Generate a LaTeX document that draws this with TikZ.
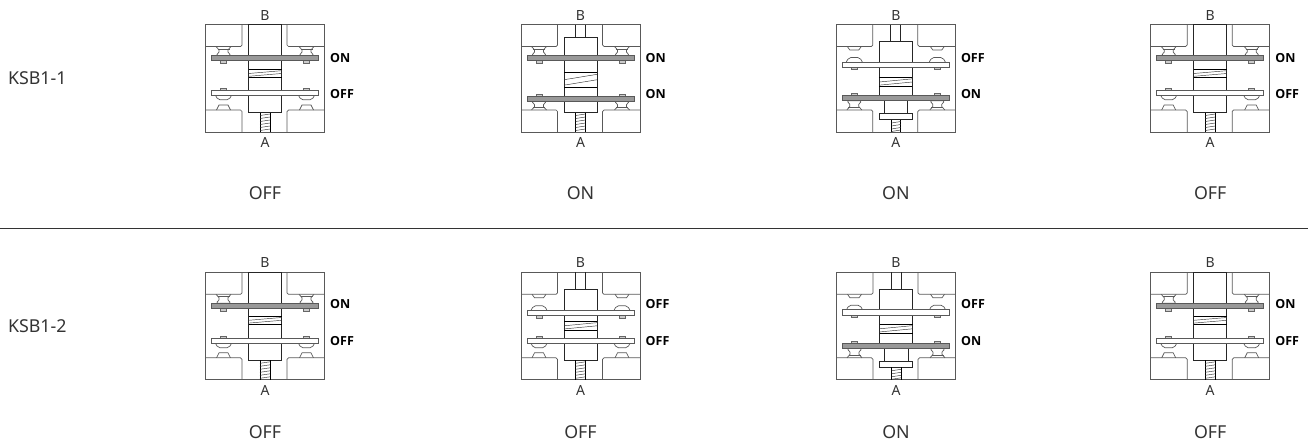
\documentclass[tikz,border=0pt]{standalone}
\usepackage{fontspec}
\setmainfont{Noto Sans}
\newfontfamily\statefont{Open Sans}

% contacts above the upper plate: #1 = centre x, #2 = plate top
\newcommand{\uppercontact}[3]{
   \ifnum#3=1
      \draw[part,rounded corners=1.5pt] (#1-7.5,22) -- (#1-3.5,{(22+#2)/2}) -- (#1-7.5,#2) -- (#1+7.5,#2) -- (#1+3.5,{(22+#2)/2}) -- (#1+7.5,22);
      \draw[part] (#1-6,24.5) -- (#1+6,24.5);
   \else
      \draw[part] (#1-7,22) -- (#1-4.5,25.5) -- (#1+4.5,25.5) -- (#1+7,22);
      \draw[part,rounded corners=2pt] (#1-8,#2) -- (#1-5.5,#2-4.5) -- (#1+5.5,#2-4.5) -- (#1+8,#2);
   \fi
   \draw[rivet] (#1-3,#2+5) rectangle (#1+3,#2+7.5);
}
% contacts below the lower plate: #1 = centre x, #2 = plate bottom
\newcommand{\lowercontact}[3]{
   \ifnum#3=1
      \draw[part,rounded corners=1.5pt] (#1-7.5,85.5) -- (#1-3.5,{(85.5+#2)/2}) -- (#1-7.5,#2) -- (#1+7.5,#2) -- (#1+3.5,{(85.5+#2)/2}) -- (#1+7.5,85.5);
      \draw[part] (#1-6,83) -- (#1+6,83);
   \else
      \draw[part] (#1-7,85.5) -- (#1-4.5,80.5) -- (#1+4.5,80.5) -- (#1+7,85.5);
      \draw[part,rounded corners=2pt] (#1-8,#2) -- (#1-5.5,#2+4.5) -- (#1+5.5,#2+4.5) -- (#1+8,#2);
   \fi
   \draw[rivet] (#1-3,#2-5.5) rectangle (#1+3,#2-7.5);
}
\newcommand{\onoff}[1]{\ifnum#1=1 ON\else OFF\fi}

\begin{document}
\begin{tikzpicture}[x=1pt,y=-1pt]
   \useasboundingbox (0,0) rectangle (1308,445);
   \tikzstyle{part}=[draw=black!65, line width=0.7pt]
   \tikzstyle{hatch}=[draw=black!80, line width=0.45pt]
   \tikzstyle{rivet}=[draw=black!60, fill=black!20, line width=0.6pt]
   \tikzstyle{stroke}=[draw=black!85, line width=0.8pt]
   \tikzstyle{heavy}=[draw=black, line width=0.9pt]
   \tikzstyle{plain}=[text=black!80, font=\fontsize{17.8}{20}\selectfont]
   \tikzstyle{port}=[text=black!80, font=\fontsize{14}{16}\selectfont]
   \tikzstyle{state}=[anchor=west, inner sep=0pt, text=black, font=\statefont\fontsize{12.5}{14}\selectfont\bfseries]

   \node[plain,anchor=west] (row1) at (4.5,78) {KSB1-1};
   \node[plain,anchor=west] (row2) at (4.5,326) {KSB1-2};
   \coordinate (left) at (0,228.5);
   \coordinate (right) at (1308,228.5);
   \draw[line width=0.8pt,black!80] (left) -- (right);

   \foreach \i/\x/\y/\ctop/\neck/\spa/\spb/\upy/\ust/\loy/\lst/\ua/\ub/\sy/\word in {
      1/205.5/24.5/0/0/45/53/31/1/65.5/0/57.7/94/193/OFF,
      2/521/24.5/13/0/47.5/63/31/1/71.5/1/57.7/94/193/ON,
      3/836.3/24.5/17/1/53/62/37.5/0/71/1/58/94/193/ON,
      4/1150.7/24.5/0/0/45/53/31/1/65.5/0/57.7/94/193/OFF,
      5/205.5/272.3/0/0/44/52/31/1/65.7/0/304/340.7/432/OFF,
      6/521/272.3/17/0/49/58/38/0/65.7/0/304/340.7/432/OFF,
      7/836.5/272.3/17/1/52/61/37.4/0/71/1/304/340.7/432/ON,
      8/1150.7/272.3/0/0/44/52/31/1/65.7/0/304/340.7/432/OFF} {
      \begin{scope}[shift={(\x,\y)}]
         % frame and the four blocks
         \draw[part] (0,0) rectangle (119,107.5);
         \draw[part,rounded corners=1.5pt] (0,22) -- (36.5,22) -- (36.5,0);
         \draw[part,rounded corners=1.5pt] (119,22) -- (81.5,22) -- (81.5,0);
         \draw[part,rounded corners=1.5pt] (0,85.5) -- (36.5,85.5) -- (36.5,107.5);
         \draw[part,rounded corners=1.5pt] (119,85.5) -- (81.5,85.5) -- (81.5,107.5);
         % plunger
         \ifnum\neck=1
            \draw[stroke] (43,\ctop) rectangle (76,\loy);
            \draw[stroke] (48,\loy) rectangle (71.5,89);
            \draw[stroke] (43,89) rectangle (76,95);
            \draw[heavy] (55,95) -- (55,107.5);
            \draw[heavy] (64.5,95) -- (64.5,107.5);
            \foreach \s in {98.5,101.5,104.5,107}
               \draw[hatch] (55,\s) -- (64.5,\s-1.5);
         \else
            \draw[stroke] (43,\ctop) rectangle (76,88);
            \draw[heavy] (54.5,88) -- (54.5,107.5);
            \draw[heavy] (64.5,88) -- (64.5,107.5);
            \foreach \s in {91,94,...,106}
               \draw[hatch] (54.5,\s) -- (64.5,\s-1.5);
         \fi
         \ifnum\ctop>0
            \draw[stroke] (54.5,0) -- (54.5,\ctop);
            \draw[stroke] (64.5,0) -- (64.5,\ctop);
         \fi
         % spring
         \draw[heavy] (43,\spa) -- (76,\spa);
         \draw[heavy] (43,\spb) -- (76,\spb);
         \draw[hatch] (43,{\spa+0.5*(\spb-\spa)}) -- (76,{\spa+0.15*(\spb-\spa)});
         \draw[hatch] (43,{\spa+0.85*(\spb-\spa)}) -- (76,{\spa+0.5*(\spb-\spa)});
         % contacts and plates
         \foreach \cx in {18,101} {
            \uppercontact{\cx}{\upy}{\ust}
            \lowercontact{\cx}{\loy+5.3}{\lst}
         }
         \ifnum\ust=1
            \draw[part,fill=black!40] (6,\upy) rectangle (113,\upy+5.3);
         \else
            \draw[part,fill=white] (6,\upy) rectangle (113,\upy+5.3);
         \fi
         \ifnum\lst=1
            \draw[part,fill=black!40] (6,\loy) rectangle (113,\loy+5.3);
         \else
            \draw[part,fill=white] (6,\loy) rectangle (113,\loy+5.3);
         \fi
         \node[port] (b\i) at (59.5,-9.5) {B};
         \node[port] (a\i) at (59.5,118) {A};
      \end{scope}
      \node[state] (u\i) at (\x+124.5,\ua) {\onoff{\ust}};
      \node[state] (l\i) at (\x+124.5,\ub) {\onoff{\lst}};
      \node[plain] (s\i) at (\x+59.5,\sy) {\word};
   }
\end{tikzpicture}
\end{document}
